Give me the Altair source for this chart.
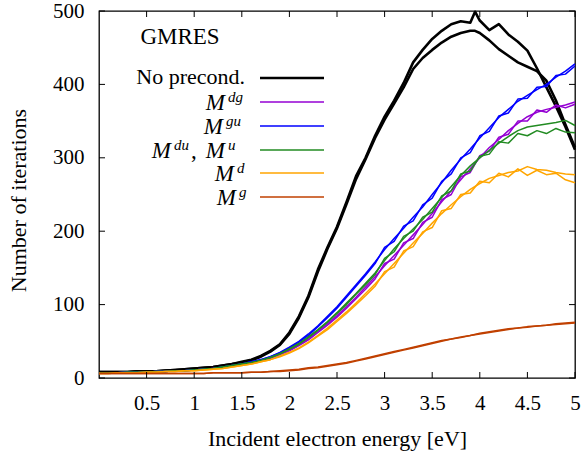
import altair as alt
import pandas as pd

# ---------------- data ----------------
X = [0.0, 0.1, 0.2, 0.3, 0.4, 0.5, 0.6, 0.7, 0.8, 0.9,
     1.0, 1.1, 1.2, 1.3, 1.4, 1.5, 1.6, 1.7, 1.8, 1.9,
     2.0, 2.1, 2.2, 2.3, 2.4, 2.5, 2.6, 2.7, 2.8, 2.9,
     3.0, 3.1, 3.2, 3.3, 3.4, 3.5, 3.6, 3.7, 3.8, 3.9,
     4.0, 4.1, 4.2, 4.3, 4.4, 4.5, 4.6, 4.7, 4.8, 4.9, 5.0]

X_BLACK = [0.0, 0.1, 0.2, 0.3, 0.4, 0.5, 0.6, 0.7, 0.8, 0.9,
           1.0, 1.1, 1.2, 1.3, 1.4, 1.5, 1.6, 1.7, 1.8, 1.9,
           2.0, 2.1, 2.2, 2.3, 2.4, 2.5, 2.6, 2.7, 2.8, 2.9,
           3.0, 3.1, 3.2, 3.3, 3.4, 3.5, 3.6, 3.7, 3.8, 3.9, 3.95,
           4.0, 4.1, 4.2, 4.3, 4.4, 4.5, 4.6, 4.7, 4.8, 4.9, 5.0]

black_a = [8, 8, 8, 8, 9, 9, 9, 10, 11, 12,
           13, 14, 15, 17, 19, 22, 25, 30, 37, 46,
           62, 84, 112, 148, 178, 206, 240, 275, 300, 330,
           356, 378, 402, 430, 447, 462, 473, 482, 486, 484, 499,
           487, 474, 482, 468, 458, 446, 422, 396, 370, 342, 311]
black_b = [8, 8, 8, 8, 9, 9, 9, 10, 11, 12,
           13, 14, 15, 17, 19, 21, 24, 29, 36, 45,
           60, 82, 110, 145, 176, 204, 237, 271, 298, 327,
           352, 374, 396, 421, 436, 447, 457, 465, 470, 473, 473,
           470, 460, 448, 439, 430, 424, 418, 405, 378, 345, 314]

blue_a = [7, 7, 7, 8, 8, 8, 9, 9, 10, 10,
          11, 12, 13, 15, 17, 19, 22, 25, 29, 35,
          42, 50, 60, 71, 84, 97, 112, 127, 142, 158,
          175, 190, 204, 219, 233, 250, 266, 283, 298, 312,
          327, 341, 355, 366, 377, 385, 393, 400, 410, 418, 428]
blue_b = [7, 7, 7, 8, 8, 8, 9, 9, 10, 10,
          11, 12, 13, 15, 17, 19, 22, 25, 29, 34,
          41, 49, 58, 70, 82, 95, 110, 125, 140, 156,
          178, 186, 207, 214, 236, 245, 268, 278, 300, 307,
          330, 336, 357, 361, 380, 381, 396, 397, 412, 414, 425]

purple_a = [7, 7, 7, 8, 8, 8, 9, 9, 10, 10,
            11, 12, 13, 14, 16, 18, 20, 23, 27, 32,
            38, 45, 53, 63, 74, 85, 97, 110, 124, 138,
            153, 167, 181, 195, 209, 224, 240, 255, 270, 285,
            300, 314, 325, 337, 347, 356, 362, 366, 369, 372, 376]
purple_b = [7, 7, 7, 8, 8, 8, 9, 9, 10, 10,
            11, 12, 13, 14, 16, 18, 20, 23, 27, 32,
            37, 44, 52, 62, 72, 83, 95, 108, 121, 135,
            156, 162, 184, 190, 212, 219, 243, 250, 274, 280,
            303, 309, 328, 332, 350, 350, 365, 362, 372, 368, 373]

green_a = [7, 7, 7, 8, 8, 8, 9, 9, 10, 10,
           11, 12, 13, 15, 17, 19, 21, 24, 28, 33,
           40, 47, 56, 66, 77, 89, 102, 115, 129, 143,
           160, 176, 190, 203, 216, 231, 246, 261, 276, 289,
           300, 310, 320, 329, 337, 342, 344, 346, 348, 351, 344]
green_b = [7, 7, 7, 8, 8, 8, 9, 9, 10, 10,
           11, 12, 13, 15, 17, 19, 21, 24, 28, 33,
           39, 46, 55, 65, 76, 88, 100, 114, 127, 141,
           163, 172, 193, 200, 219, 226, 248, 255, 278, 282,
           302, 305, 322, 320, 333, 330, 337, 333, 340, 335, 334]

orange_a = [6, 6, 7, 7, 7, 8, 8, 9, 9, 10,
            10, 11, 12, 13, 15, 17, 19, 22, 25, 30,
            35, 41, 49, 58, 68, 79, 90, 102, 115, 128,
            142, 156, 170, 184, 197, 211, 224, 236, 247, 257,
            265, 272, 276, 280, 282, 288, 284, 283, 280, 278, 277]
orange_b = [6, 6, 7, 7, 7, 8, 8, 9, 9, 10,
            10, 11, 12, 13, 15, 17, 19, 22, 25, 29,
            34, 40, 48, 57, 66, 77, 88, 100, 112, 125,
            145, 151, 173, 179, 199, 205, 228, 231, 250, 252,
            268, 266, 279, 274, 285, 276, 283, 277, 279, 270, 266]

red_a = [6, 6, 6, 6, 6, 6, 6, 6, 6, 6,
         6, 6, 7, 7, 7, 7, 8, 8, 9, 10,
         11, 12, 14, 15, 17, 19, 21, 24, 27, 30,
         33, 36, 39, 42, 45, 48, 51, 53, 56, 58,
         61, 63, 65, 67, 68, 70, 71, 72, 74, 75, 76]
red_b = [6, 6, 6, 6, 6, 6, 6, 6, 6, 6,
         6, 6, 7, 7, 7, 7, 8, 8, 9, 9,
         10, 11, 13, 14, 16, 18, 20, 23, 26, 29,
         32, 35, 38, 41, 44, 47, 50, 53, 55, 58,
         60, 62, 64, 66, 68, 69, 71, 72, 73, 74, 75]

SERIES = ["Mdg", "Mgu", "Mdu", "Md", "Mg"]
COLORS = ["#9400D3", "#0000FF", "#228B22", "#FFA500", "#C04000"]

X_TICKS = [0.5, 1.0, 1.5, 2.0, 2.5, 3.0, 3.5, 4.0, 4.5, 5.0]
Y_TICKS = [0, 100, 200, 300, 400, 500]

# ---------------- tables ----------------
rows = []
for name, runs in [("Mdg", (purple_a, purple_b)), ("Mgu", (blue_a, blue_b)),
                   ("Mdu", (green_a, green_b)), ("Md", (orange_a, orange_b)),
                   ("Mg", (red_a, red_b))]:
    for k, vals in enumerate(runs):
        assert len(vals) == len(X), name
        for xv, yv in zip(X, vals):
            rows.append({"x": xv, "y": yv, "series": name, "run": k})
df_col = pd.DataFrame(rows)

brows = []
for k, vals in enumerate((black_a, black_b)):
    assert len(vals) == len(X_BLACK)
    for xv, yv in zip(X_BLACK, vals):
        brows.append({"x": xv, "y": yv, "run": k})
df_black = pd.DataFrame(brows)

W, H = 476, 367
FONT = "Liberation Serif, Times New Roman, serif"

xs = alt.Scale(domain=[0, 5], nice=False, zero=False)
ys = alt.Scale(domain=[0, 500], nice=False)

xaxis = alt.Axis(values=X_TICKS, format="~g", title="Incident electron energy [eV]",
                 domain=False, ticks=False, tickSize=0, grid=False,
                 labelPadding=14, labelFlush=False, titleY=60, titleBaseline="middle")
yaxis = alt.Axis(values=Y_TICKS, title="Number of iterations",
                 domain=False, ticks=False, tickSize=0, grid=False,
                 labelPadding=15, titleX=-81, titleY=189, titleAngle=-90,
                 titleAlign="center", titleBaseline="middle")

black = alt.Chart(df_black).mark_line(strokeWidth=2.6, color="black", strokeJoin="round").encode(
    x=alt.X("x:Q", scale=xs, axis=xaxis),
    y=alt.Y("y:Q", scale=ys, axis=yaxis),
    detail="run:N",
)

colored = alt.Chart(df_col).mark_line(strokeWidth=1.5, strokeJoin="round").encode(
    x=alt.X("x:Q", scale=xs, axis=xaxis),
    y=alt.Y("y:Q", scale=ys, axis=yaxis),
    color=alt.Color("series:N", scale=alt.Scale(domain=SERIES, range=COLORS), legend=None),
    detail="run:N",
)

TL = 6  # inward tick length
xt = pd.DataFrame({"x": X_TICKS})
yt = pd.DataFrame({"y": Y_TICKS})
tick_bottom = alt.Chart(xt).mark_rule(color="black", strokeWidth=1).encode(
    x=alt.X("x:Q", scale=xs, axis=xaxis), y=alt.value(H), y2=alt.value(H - TL))
tick_top = alt.Chart(xt).mark_rule(color="black", strokeWidth=1).encode(
    x=alt.X("x:Q", scale=xs, axis=xaxis), y=alt.value(0), y2=alt.value(TL))
tick_left = alt.Chart(yt).mark_rule(color="black", strokeWidth=1).encode(
    y=alt.Y("y:Q", scale=ys, axis=yaxis), x=alt.value(0), x2=alt.value(TL))
tick_right = alt.Chart(yt).mark_rule(color="black", strokeWidth=1).encode(
    y=alt.Y("y:Q", scale=ys, axis=yaxis), x=alt.value(W), x2=alt.value(W - TL))


def txt(s, x, y, size=23, align="left", italic=False, baseline="middle"):
    return alt.Chart(pd.DataFrame({"t": [s]})).mark_text(
        font=FONT, fontSize=size, align=align, baseline=baseline,
        fontStyle="italic" if italic else "normal", color="black",
    ).encode(text="t:N", x=alt.value(x), y=alt.value(y))


def seg(y, color, width=1.5):
    return alt.Chart(pd.DataFrame({"a": [0]})).mark_rule(color=color, strokeWidth=width).encode(
        x=alt.value(161), x2=alt.value(225), y=alt.value(y))


legend_layers = [
    txt("GMRES", 81, 26, size=23, align="center"),
    txt("No precond.", 146, 66, size=22, align="right"),
    seg(67, "black", 2.6),
    # M^dg
    txt("M", 126, 92, align="right", italic=True),
    txt("dg", 129, 86, size=15, italic=True),
    seg(91, COLORS[0]),
    # M^gu
    txt("M", 124, 116, align="right", italic=True),
    txt("gu", 127, 110, size=15, italic=True),
    seg(115, COLORS[1]),
    # M^du, M^u
    txt("M", 72, 140, align="right", italic=True),
    txt("du", 75, 134, size=15, italic=True),
    txt(",", 92, 140),
    txt("M", 126, 140, align="right", italic=True),
    txt("u", 129, 134, size=15, italic=True),
    seg(139, COLORS[2]),
    # M^d
    txt("M", 135, 163, align="right", italic=True),
    txt("d", 138, 157, size=15, italic=True),
    seg(162, COLORS[3]),
    # M^g
    txt("M", 137, 187, align="right", italic=True),
    txt("g", 140, 181, size=15, italic=True),
    seg(186, COLORS[4]),
]

chart = alt.layer(
    black, colored, tick_bottom, tick_top, tick_left, tick_right, *legend_layers
).properties(
    width=W, height=H,
    autosize=alt.AutoSizeParams(type="none"),
    padding={"left": 99, "top": 11, "right": 9, "bottom": 79},
    background="white",
).configure_view(
    stroke="black", strokeWidth=1.3,
).configure_axis(
    labelFont=FONT, labelFontSize=21, labelColor="black",
    titleFont=FONT, titleFontSize=22, titleFontWeight="normal", titleColor="black",
)

chart.save("out.html", embed_options={"renderer": "svg", "actions": False})
